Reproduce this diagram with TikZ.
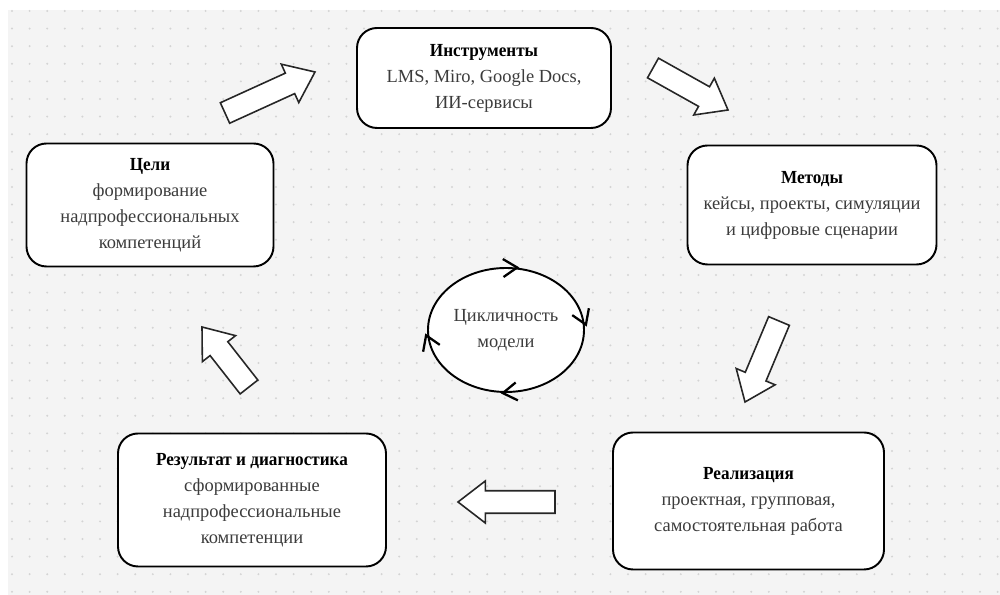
\documentclass[tikz,border=0pt]{standalone}
\usepackage{fontspec}
\setmainfont{Liberation Serif}[BoldFeatures={FakeStretch=0.93}]
\usetikzlibrary{calc,shapes.geometric,decorations.markings,arrows.meta}

% block arrow between two named coordinates
\newcommand{\blockarrow}[2]{%
  \draw[block arrow] let \p1=($(#2)-(#1)$), \n1={atan2(\y1,\x1)}, \n2={veclen(\x1,\y1)-15.6pt} in
    ($(#1)+(\n1+90:6.4pt)$) -- ($(#1)+(\n1:\n2)+(\n1+90:6.4pt)$)
    -- ($(#1)+(\n1:\n2)+(\n1+90:12pt)$) -- (#2)
    -- ($(#1)+(\n1:\n2)+(\n1-90:12pt)$) -- ($(#1)+(\n1:\n2)+(\n1-90:6.4pt)$)
    -- ($(#1)+(\n1-90:6.4pt)$) -- cycle;}

\begin{document}
\begin{tikzpicture}[>={Straight Barb[length=2.8mm,width=3.6mm]}]

\definecolor{boardbg}{RGB}{244,244,244}
\definecolor{boarddot}{RGB}{212,212,212}
\definecolor{bodytext}{RGB}{60,60,60}

\useasboundingbox (0,0) rectangle (20,11.9);

% Board with dot grid
\fill[white] (0,0) rectangle (20,11.9);
\fill[boardbg] (0.16,0) rectangle (20,11.7);
\foreach \i in {0,...,56}
  \foreach \j in {0,...,33}
    \fill[boarddot] (0.24+0.352*\i, 11.68-0.352*\j) circle (0.022);

\tikzset{
    stage/.style={
        draw=black, line width=1.1pt, fill=white,
        rectangle, rounded corners=0.4cm, inner sep=0pt,
        text=bodytext, align=center,
        font=\fontsize{10.5}{14.8}\selectfont
    },
    block arrow/.style={
        draw=black!85, line width=0.9pt, fill=white, line join=miter
    },
    cycle mark/.style={
        postaction={decorate, decoration={markings,
            mark=at position 0.045 with {\arrow[line width=1.3pt]{<}},
            mark=at position 0.259 with {\arrow[line width=1.3pt]{<}},
            mark=at position 0.545 with {\arrow[line width=1.3pt]{<}},
            mark=at position 0.777 with {\arrow[line width=1.3pt]{<}}}}
    }
}

% --- STAGES ---
\node[stage, minimum width=5.08cm, minimum height=2.0cm] (Tools) at (9.68, 10.34)
    {\textcolor{black}{\textbf{Инструменты}}\\LMS, Miro, Google Docs,\\ИИ-сервисы};
\node[stage, minimum width=4.94cm, minimum height=2.46cm] (Goals) at (3.0, 7.8)
    {\textcolor{black}{\textbf{Цели}}\\формирование\\надпрофессиональных\\компетенций};
\node[stage, minimum width=4.98cm, minimum height=2.38cm] (Methods) at (16.24, 7.8)
    {\textcolor{black}{\textbf{Методы}}\\кейсы, проекты, симуляции\\и цифровые сценарии};
\node[stage, minimum width=5.36cm, minimum height=2.66cm] (Result) at (5.04, 1.9)
    {\textcolor{black}{\textbf{Результат и диагностика}}\\сформированные\\надпрофессиональные\\компетенции};
\node[stage, minimum width=5.42cm, minimum height=2.74cm] (Impl) at (14.97, 1.88)
    {\textcolor{black}{\textbf{Реализация}}\\проектная, групповая,\\самостоятельная работа};

% Cycle in the middle
\node[ellipse, draw=black, line width=1.1pt, fill=white, inner sep=0pt,
      minimum width=3.12cm, minimum height=2.48cm, cycle mark]
      (Cycle) at (10.12, 5.3) {};
\node[text=bodytext, align=center, font=\fontsize{10.5}{14.8}\selectfont]
      (CycleText) at (Cycle.center) {Цикличность\\модели};

% --- BLOCK ARROWS ---
\coordinate (g1) at (4.50, 9.64);   \coordinate (t1) at (6.30, 10.46);
\coordinate (t2) at (13.06, 10.54); \coordinate (m1) at (14.56, 9.70);
\coordinate (m2) at (15.58, 5.48);  \coordinate (i1) at (14.90, 3.86);
\coordinate (i2) at (11.10, 1.86);  \coordinate (r1) at (9.16, 1.86);
\coordinate (r2) at (4.98, 4.16);   \coordinate (g2) at (4.04, 5.36);

\blockarrow{g1}{t1}
\blockarrow{t2}{m1}
\blockarrow{m2}{i1}
\blockarrow{i2}{r1}
\blockarrow{r2}{g2}

\end{tikzpicture}
\end{document}
